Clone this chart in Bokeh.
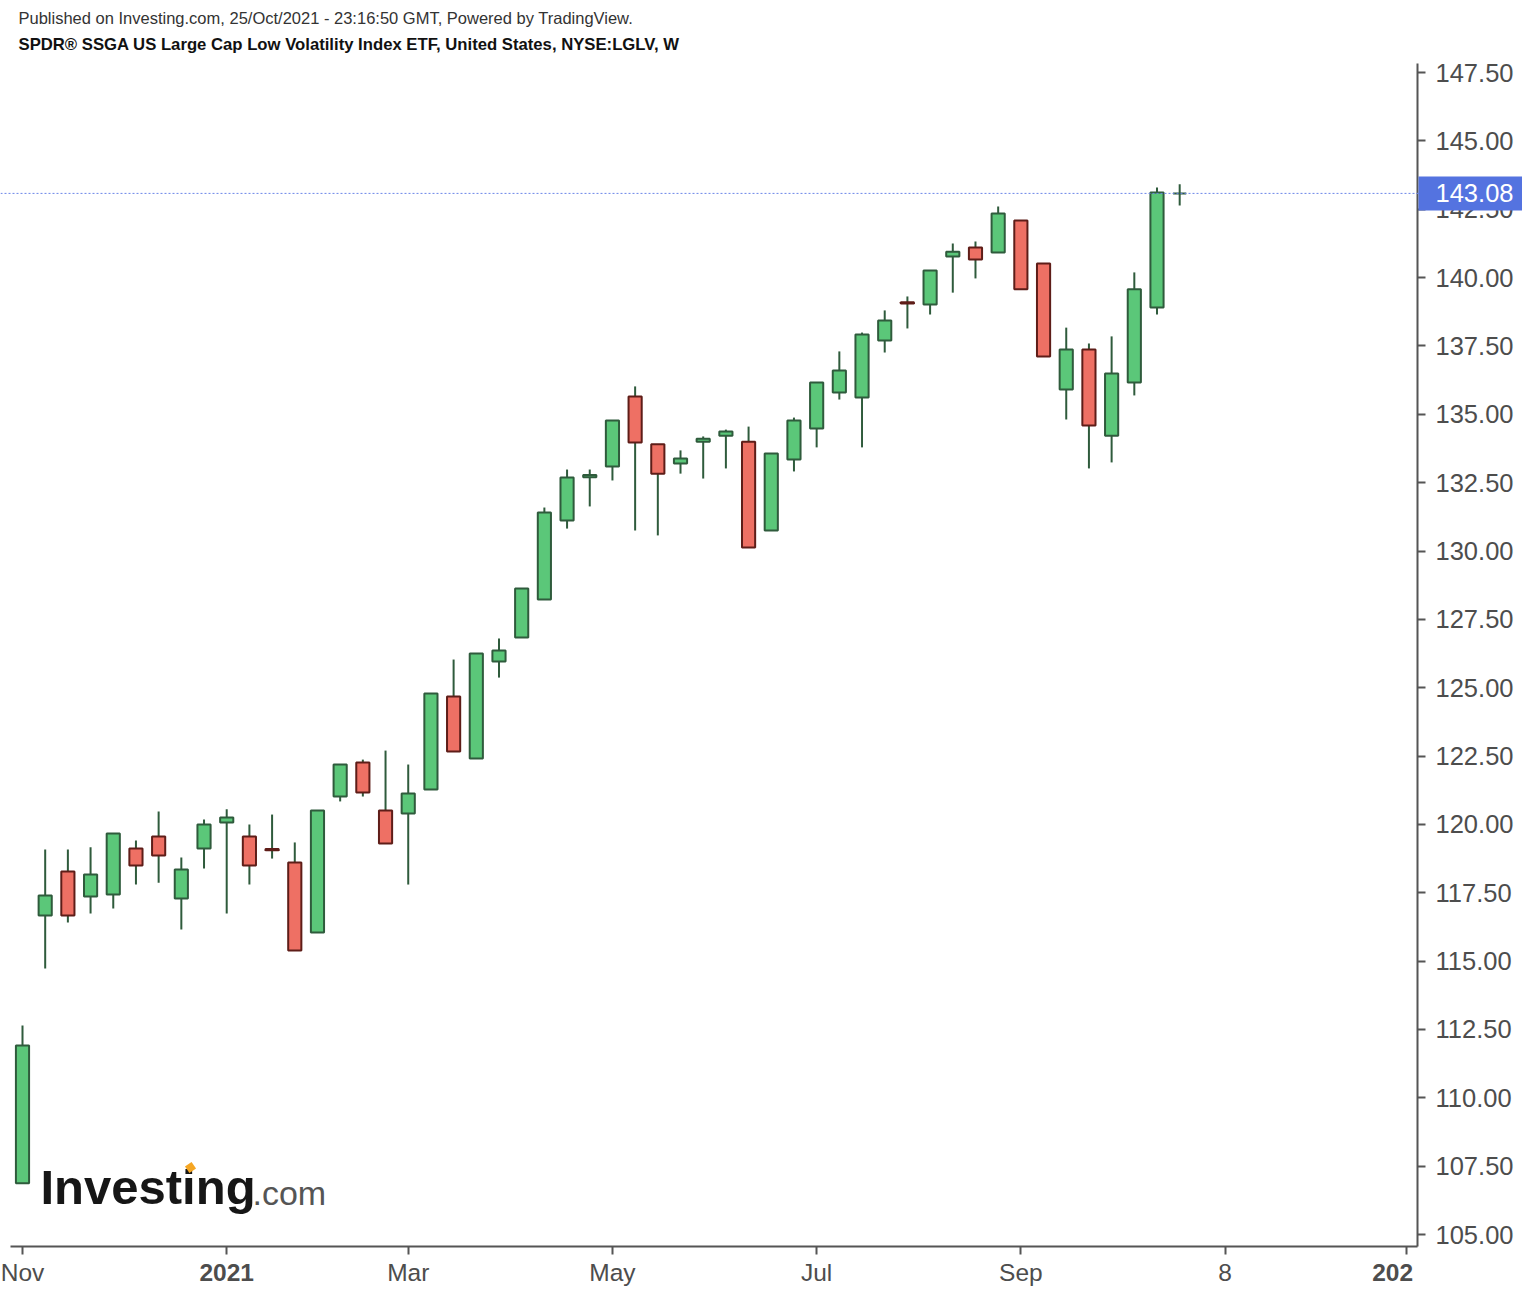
from bokeh.plotting import figure
from bokeh.models import (ColumnDataSource, FixedTicker, NumeralTickFormatter,
                          Span, Label, Range1d)
from bokeh.embed import file_html
from bokeh.resources import INLINE

# ---- data (weekly bars of NYSE:LGLV) ----
weeks = ["2020-11-02", "2020-11-09", "2020-11-16", "2020-11-23", "2020-11-30",
         "2020-12-07", "2020-12-14", "2020-12-21", "2020-12-28", "2021-01-04",
         "2021-01-11", "2021-01-18", "2021-01-25", "2021-02-01", "2021-02-08",
         "2021-02-15", "2021-02-22", "2021-03-01", "2021-03-08", "2021-03-15",
         "2021-03-22", "2021-03-29", "2021-04-05", "2021-04-12", "2021-04-19",
         "2021-04-26", "2021-05-03", "2021-05-10", "2021-05-17", "2021-05-24",
         "2021-05-31", "2021-06-07", "2021-06-14", "2021-06-21", "2021-06-28",
         "2021-07-05", "2021-07-12", "2021-07-19", "2021-07-26", "2021-08-02",
         "2021-08-09", "2021-08-16", "2021-08-23", "2021-08-30", "2021-09-06",
         "2021-09-13", "2021-09-20", "2021-09-27", "2021-10-04", "2021-10-11",
         "2021-10-18", "2021-10-25"]
opens = [106.87, 116.67, 118.28, 117.36, 117.44, 119.12, 119.56, 117.29, 119.12, 120.07,
         119.56, 119.10, 118.61, 116.05, 121.02, 122.26, 120.51, 120.40, 121.28, 124.68,
         122.41, 125.96, 126.84, 128.23, 131.12, 132.70, 133.09, 135.65, 133.90, 133.20,
         134.00, 134.22, 134.00, 130.75, 133.35, 134.48, 135.80, 135.61, 137.70, 139.10,
         139.02, 140.77, 141.10, 140.92, 142.09, 140.52, 135.91, 137.37, 134.22, 136.16,
         138.91, 143.08]
highs = [112.64, 119.08, 119.08, 119.16, 119.67, 119.41, 120.47, 118.79, 120.18, 120.55,
         120.00, 120.36, 119.34, 120.51, 122.19, 122.37, 122.70, 122.19, 124.79, 126.03,
         126.25, 126.80, 128.63, 131.59, 132.98, 132.98, 134.77, 136.02, 133.90, 133.68,
         134.19, 134.44, 134.55, 133.57, 134.88, 136.16, 137.30, 137.99, 138.80, 139.31,
         140.26, 141.25, 141.32, 142.60, 142.09, 140.52, 138.17, 137.59, 137.85, 140.19,
         143.30, 143.41]
lows = [106.87, 114.73, 116.41, 116.74, 116.92, 117.80, 117.87, 116.16, 118.39, 116.74,
        117.80, 118.75, 115.39, 116.05, 120.84, 121.02, 119.30, 117.80, 121.28, 122.67,
        122.41, 125.37, 126.84, 128.23, 130.82, 131.63, 132.58, 130.75, 130.57, 132.83,
        132.65, 133.02, 130.13, 130.75, 132.91, 133.79, 135.54, 133.79, 137.26, 138.14,
        138.65, 139.45, 139.97, 140.92, 139.57, 137.11, 134.81, 133.02, 133.24, 135.69,
        138.65, 142.64]
closes = [111.91, 117.40, 116.67, 118.17, 119.67, 118.50, 118.86, 118.35, 120.00, 120.25,
          118.50, 119.05, 115.39, 120.51, 122.19, 121.17, 119.30, 121.13, 124.79, 122.67,
          126.25, 126.36, 128.63, 131.41, 132.69, 132.78, 134.77, 133.97, 132.83, 133.38,
          134.11, 134.37, 130.13, 133.57, 134.77, 136.16, 136.60, 137.92, 138.43, 139.05,
          140.26, 140.95, 140.66, 142.34, 139.57, 137.11, 137.37, 134.59, 136.49, 139.57,
          143.11, 143.08]

x_tick_pos = [0, 9, 17, 26, 35, 44, 53, 61]
x_tick_text = ["Nov", "2021", "Mar", "May", "Jul", "Sep", "8", "202"]
x_tick_bold = [False, True, False, False, False, False, False, True]
y_ticks = [105.0, 107.5, 110.0, 112.5, 115.0, 117.5, 120.0, 122.5, 125.0, 127.5,
           130.0, 132.5, 135.0, 137.5, 140.0, 142.5, 145.0, 147.5]
last_price = 143.08

header_line = "Published on Investing.com, 25/Oct/2021 - 23:16:50 GMT, Powered by TradingView."
title_line = "SPDR\u00ae SSGA US Large Cap Low Volatility Index ETF, United States, NYSE:LGLV, W"

# ---- layout (pixel geometry of the canvas) ----
W, H = 1522, 1288
BAR0_PX, BAR_PX = 22.0, 22.69          # first bar centre, spacing per weekly bar
V0, V0_PY, PX_PER_UNIT = 105.0, 1234.0, 27.34
PANE_L, PANE_R, PANE_T, PANE_B = 10, 1417, 63, 1246


def bx(px):
    return (px - BAR0_PX) / BAR_PX


def vy(py):
    return V0 + (V0_PY - py) / PX_PER_UNIT


# ---- styling ----
UP_FILL, UP_LINE = "#5BC779", "#2F5B3C"
DN_FILL, DN_LINE = "#EE7064", "#5E1D18"
WICK = "#2F5B3C"
AXIS = "#555555"
TXT = "#4D4D4D"
FONT = "Liberation Sans"

idx = list(range(len(weeks)))
up = [c >= o for o, c in zip(opens, closes)]
src = ColumnDataSource(dict(
    x=idx, o=opens, h=highs, l=lows, c=closes,
    top=[max(o, c) for o, c in zip(opens, closes)],
    bot=[min(o, c) for o, c in zip(opens, closes)],
    fill=[UP_FILL if u else DN_FILL for u in up],
    edge=[UP_LINE if u else DN_LINE for u in up],
))

p = figure(width=W, height=H,
           x_range=Range1d(bx(0), bx(W)), y_range=Range1d(vy(H), vy(0)),
           y_axis_location="right", output_backend="svg", toolbar_location=None,
           min_border=0)
p.min_border_left = p.min_border_right = p.min_border_top = p.min_border_bottom = 0
p.outline_line_color = None
p.xgrid.visible = False
p.ygrid.visible = False
p.background_fill_color = "white"
p.border_fill_color = "white"

# header lines
p.add_layout(Label(x=bx(18), y=vy(17), text=header_line, text_font=FONT,
                   text_font_size="16.5px", text_color="#333333", text_baseline="middle"))
p.add_layout(Label(x=bx(18), y=vy(44), text=title_line, text_font=FONT,
                   text_font_size="16.7px", text_font_style="bold", text_color="#111111",
                   text_baseline="middle"))

# current price line
p.add_layout(Span(location=last_price, dimension="width", line_color="#6C86E8",
                  line_dash="2 2", line_width=1))

# candles
p.segment(x0="x", y0="h", x1="x", y1="l", source=src, line_color=WICK, line_width=2)
p.vbar(x="x", width=0.58, top="top", bottom="bot", source=src,
       fill_color="fill", line_color="edge", line_width=2)

# axes, pinned at the pane edges
xa = p.xaxis[0]
xa.fixed_location = vy(PANE_B)
xa.bounds = (bx(PANE_L), bx(PANE_R))
xa.ticker = FixedTicker(ticks=x_tick_pos)
xa.major_label_overrides = {t: ("" if b else s) for t, s, b in zip(x_tick_pos, x_tick_text, x_tick_bold)}
xa.axis_line_color = AXIS
xa.axis_line_width = 2
xa.major_tick_line_color = AXIS
xa.major_tick_line_width = 2
xa.major_tick_out = 8
xa.major_tick_in = 0
xa.minor_tick_line_color = None
xa.major_label_text_font = FONT
xa.major_label_text_font_size = "24.5px"
xa.major_label_text_color = TXT
xa.major_label_standoff = 4

ya = p.yaxis[0]
ya.fixed_location = bx(PANE_R)
ya.bounds = (vy(PANE_B), vy(PANE_T))
ya.ticker = FixedTicker(ticks=y_ticks)
ya.formatter = NumeralTickFormatter(format="0.00")
ya.axis_line_color = AXIS
ya.axis_line_width = 2
ya.major_tick_line_color = AXIS
ya.major_tick_line_width = 2
ya.major_tick_out = 8
ya.major_tick_in = 0
ya.minor_tick_line_color = None
ya.major_label_text_font = FONT
ya.major_label_text_font_size = "25.5px"
ya.major_label_text_color = TXT
ya.major_label_standoff = 10

# bold year labels on the time axis
for t, s, b in zip(x_tick_pos, x_tick_text, x_tick_bold):
    if b:
        p.add_layout(Label(x=t, y=vy(1272), text=s, text_font=FONT, text_font_size="24.5px",
                           text_font_style="bold", text_color=TXT,
                           text_align="center", x_offset=0 if s == "2021" else -14,
                           text_baseline="middle"))

# last price tag on the price axis
p.add_layout(Label(x=bx(1418), y=last_price, text=f"{last_price:.2f}", text_font=FONT,
                   text_font_size="25.5px", text_color="white", text_baseline="middle",
                   text_align="left", background_fill_color="#5473E0",
                   padding=dict(left=17, right=9, top=8, bottom=8)))

# watermark logo
p.add_layout(Label(x=bx(40), y=vy(1186.5), text="Investing", text_font=FONT,
                   text_font_size="49px", text_font_style="bold", text_color="#161616",
                   text_baseline="middle"))
p.add_layout(Label(x=bx(252), y=vy(1192), text=".com", text_font=FONT,
                   text_font_size="34px", text_color="#555555",
                   text_baseline="middle"))
dot = p.scatter(x=[bx(190)], y=[vy(1167)], size=8, marker="square", angle=0.6,
                fill_color="#F5A623", line_color=None)
dot.level = "overlay"

open("out.html", "w").write(file_html(p, INLINE))
